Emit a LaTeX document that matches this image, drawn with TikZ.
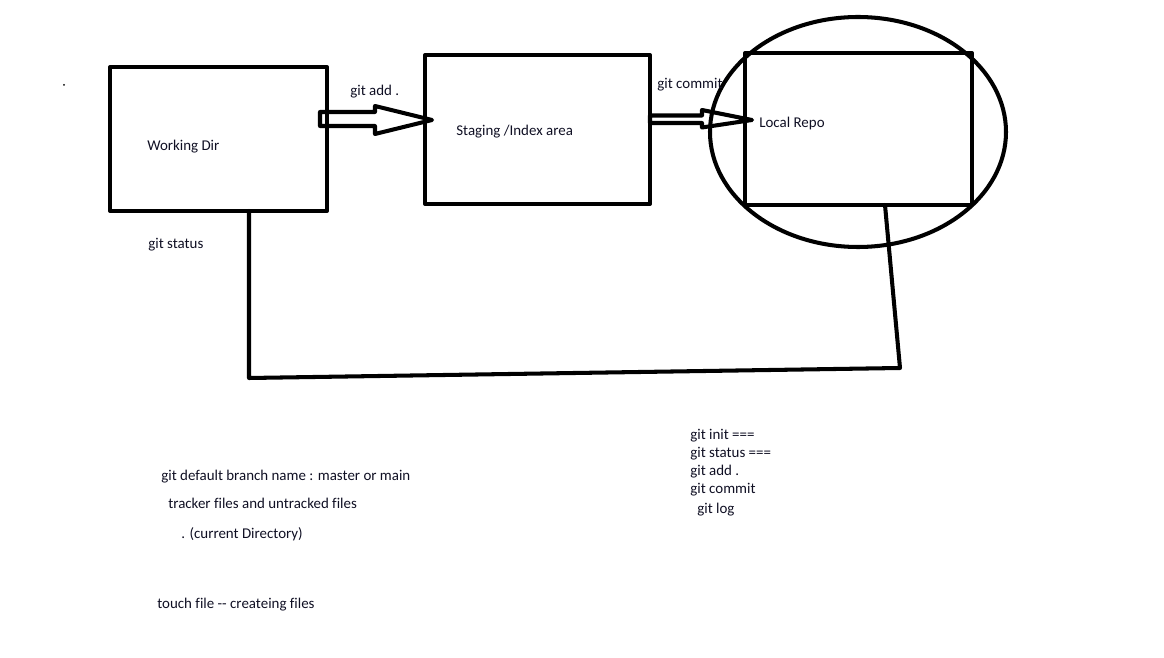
\documentclass[tikz,border=0pt]{standalone}
\usepackage{fontspec}
\setmainfont{Carlito}[Ligatures=CommonOff]
\usetikzlibrary{positioning,calc}
\definecolor{inkline}{RGB}{0,0,0}
\definecolor{inktext}{RGB}{15,15,35}

\begin{document}
\begin{tikzpicture}[x=0.02cm,y=-0.02cm,
    pen/.style={draw=inkline, line width=2.3pt, line join=round, line cap=round},
    box/.style={pen, rectangle, inner sep=0pt, outer sep=0pt},
    lbl/.style={text=inktext, font=\fontsize{8.5pt}{10pt}\selectfont, inner sep=0pt, anchor=west}]
    \useasboundingbox (0,0) rectangle (1164,658);
    % boxes
    \node[box, minimum width=4.34cm, minimum height=2.88cm] (wd) at (218.5,139) {};
    \node[box, minimum width=4.50cm, minimum height=2.98cm] (stage) at (537.5,129.5) {};
    \node[box, minimum width=4.54cm, minimum height=3.04cm] (repo) at (858.5,129) {};
    \draw[pen] (858,132) ellipse [x radius=148, y radius=115];

    % hollow arrows
    \coordinate (a1) at ($(wd.east)+(-7,-20)$);
    \coordinate (a2) at ($(stage.east)+(0,-10)$);
    \draw[pen] (a1) ++(0,-7) -- ++(55,0) -- ++(0,-6) -- ($(stage.west)+(7,-9.5)$)
        -- ($(a1)+(55,15)$) -- ++(0,-8) -- ++(-55,0) -- cycle;
    \draw[pen] (a2) ++(0,-4) -- ++(52,0) -- ++(0,-5.5) -- ($(repo.west)+(7,-9)$)
        -- ($(a2)+(52,8)$) -- ++(0,-4.5) -- ++(-52,0) -- cycle;

    % feedback line
    \coordinate (c1) at (249,378);
    \coordinate (c2) at (900,368);
    \draw[pen] (wd.south -| c1) -- (c1) -- (c2) -- (repo.south -| 885,0);

    \fill (64,85) circle (1);

    % labels
    \node[lbl] (l1) at (147,147) {Working Dir};
    \node[lbl] (l2) at (456,132) {Staging /Index area};
    \node[lbl] (l3) at (759,124) {Local Repo};
    \node[lbl] (l4) at (350,92) {git add .};
    \node[lbl] (l5) at (657,85) {git commit};
    \node[lbl] (l6) at (148,245) {git status};

    \node[lbl] (n1) at (161,477) {git default branch name : master or main};
    \node[lbl] (n2) at (168,503) {tracker files and untracked files};
    \node[lbl] (n3) at (181,534) {. (current Directory)};
    \node[lbl] (n4) at (157,605) {touch file {-}{-} createing files};

    \node[lbl] (g1) at (690,436) {git init ===};
    \node[lbl] (g2) at (690,454) {git status ===};
    \node[lbl] (g3) at (690,472) {git add .};
    \node[lbl] (g4) at (690,490) {git commit};
    \node[lbl] (g5) at (697,510) {git log};
\end{tikzpicture}
\end{document}
